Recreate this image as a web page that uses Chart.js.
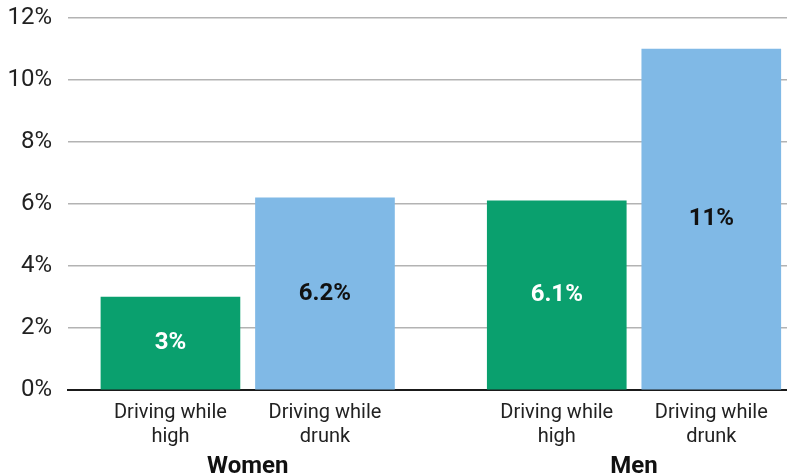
<!DOCTYPE html>
<html>
<head>
<meta charset="utf-8">
<script src="https://cdn.jsdelivr.net/npm/chart.js@4/dist/chart.umd.min.js"></script>
<style>
  html, body { margin: 0; padding: 0; background: #fff; }
  #wrap { width: 787px; height: 476px; }
</style>
</head>
<body>
<div id="wrap"><canvas id="myChart" width="787" height="476"></canvas></div>
<script>
// Datos del gráfico
const groups = ['Women', 'Men'];
const categories = [['Driving while', 'high'], ['Driving while', 'drunk']];
const highValues = [3, 6.1];
const drunkValues = [6.2, 11];
const valueLabels = { high: ['3%', '6.1%'], drunk: ['6.2%', '11%'] };
const yTicks = [0, 2, 4, 6, 8, 10, 12];

const FONT = 'Roboto, "DejaVu Sans", sans-serif';

// posición de cada barra en el eje x (grupo * 2.5 + categoría)
const slot = (g, c) => g * 2.5 + c;
const tickSlots = [];
groups.forEach((g, gi) => categories.forEach((c, ci) => tickSlots.push(slot(gi, ci))));
const groupSlots = groups.map((g, gi) => slot(gi, 0.5));

// Plugin para escribir el valor dentro de cada barra
const barLabels = {
  id: 'barLabels',
  afterDatasetsDraw(chart) {
    const ctx = chart.ctx;
    ctx.save();
    ctx.font = 'bold 24px ' + FONT;
    ctx.textAlign = 'center';
    ctx.textBaseline = 'middle';
    chart.data.datasets.forEach((ds, i) => {
      chart.getDatasetMeta(i).data.forEach((bar, j) => {
        ctx.fillStyle = ds.labelColor;
        ctx.fillText(ds.valueText[j], bar.x, (bar.y + bar.base) / 2);
      });
    });
    ctx.restore();
  }
};

const ctx = document.getElementById('myChart').getContext('2d');
const chart = new Chart(ctx, {
  type: 'bar',
  data: {
    datasets: [{
      label: 'Driving while high',
      data: highValues.map((v, gi) => ({ x: slot(gi, 0), y: v })),
      backgroundColor: '#0aa06e',
      labelColor: '#ffffff',
      valueText: valueLabels.high,
      grouped: false,
      barThickness: 139
    }, {
      label: 'Driving while drunk',
      data: drunkValues.map((v, gi) => ({ x: slot(gi, 1), y: v })),
      backgroundColor: '#80b9e6',
      labelColor: '#111111',
      valueText: valueLabels.drunk,
      grouped: false,
      barThickness: 139
    }]
  },
  options: {
    responsive: false,
    animation: false,
    layout: { padding: { top: 18, right: 0, left: 0, bottom: 0 } },
    plugins: { legend: { display: false }, tooltip: { enabled: false } },
    scales: {
      x: {
        type: 'linear',
        position: 'bottom',
        min: -0.663,
        max: 3.99,
        offset: false,
        grid: { display: false, drawTicks: false },
        border: { display: true, color: '#1a1a1a', width: 2 },
        afterBuildTicks: s => { s.ticks = tickSlots.map(v => ({ value: v })); },
        afterFit: s => { s.height = 58; },
        ticks: {
          autoSkip: false,
          maxRotation: 0,
          padding: 11,
          color: '#222',
          font: { family: FONT, size: 20, lineHeight: 1.2 },
          callback: (v, i) => categories[i % 2]
        }
      },
      x2: {
        type: 'linear',
        position: 'bottom',
        min: -0.663,
        max: 3.99,
        offset: false,
        grid: { display: false, drawTicks: false },
        border: { display: false },
        afterBuildTicks: s => { s.ticks = groupSlots.map(v => ({ value: v })); },
        afterFit: s => { s.height = 28; },
        ticks: {
          autoSkip: false,
          maxRotation: 0,
          padding: 5,
          color: '#111',
          font: { family: FONT, size: 24, weight: 'bold', lineHeight: 1.2 },
          callback: (v, i) => groups[i]
        }
      },
      y: {
        min: 0,
        max: 12,
        afterBuildTicks: s => { s.ticks = yTicks.map(v => ({ value: v })); },
        afterFit: s => { s.width = 68; },
        // marcas transparentes para separar las etiquetas sin inflar el margen superior
        grid: { color: '#b3b3b3', lineWidth: 1.5, drawTicks: true, tickLength: 14, tickColor: 'rgba(0,0,0,0)' },
        border: { display: false },
        ticks: {
          padding: 2,
          color: '#222',
          font: { family: FONT, size: 24 },
          callback: v => v + '%'
        }
      }
    }
  },
  plugins: [barLabels]
});
</script>
</body>
</html>
